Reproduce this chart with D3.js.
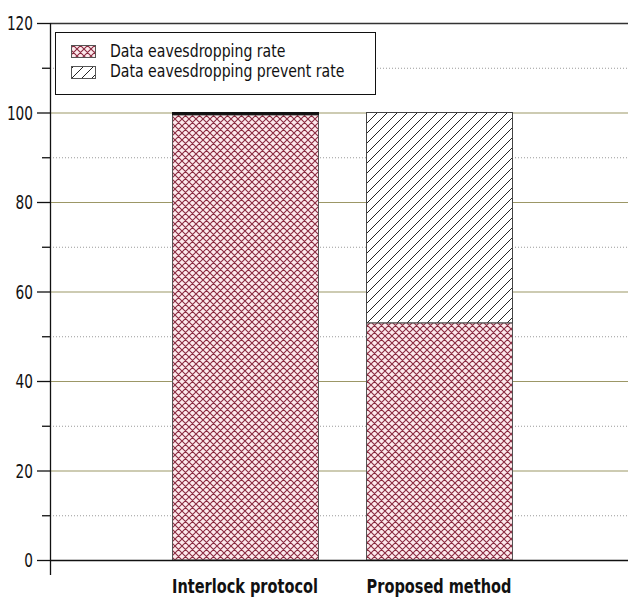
<!DOCTYPE html>
<html><head><meta charset="utf-8">
<script src="https://cdn.jsdelivr.net/npm/d3@7"></script>
<style>body{margin:0;background:#fff}</style>
</head><body>
<svg id="c" width="628" height="599"></svg>
<script>
const categories = ["Interlock protocol", "Proposed method"];
const eavesdroppingRate = [99.5, 53];
const preventRate = [0.5, 47];
const seriesNames = ["Data eavesdropping rate", "Data eavesdropping prevent rate"];
const majorTicks = [0, 20, 40, 60, 80, 100, 120];
const minorTicks = [10, 30, 50, 70, 90, 110];

const svg = d3.select("#c");
const font = "'Liberation Sans Narrow','DejaVu Sans Condensed',sans-serif";
const x0 = 50, x1 = 628, yTop = 23, yBot = 560;
const y = d3.scaleLinear().domain([0, 120]).range([yBot, yTop]);
const x = d3.scaleBand().domain(categories).range([172, 512]).paddingInner(48/194).paddingOuter(0);

function sText(sel, px, py, sx) {
  return sel.append("g").attr("transform", `translate(${px},${py}) scale(${sx},1)`).append("text");
}

const defs = svg.append("defs");
const cross = defs.append("pattern").attr("id","cross").attr("patternUnits","userSpaceOnUse")
  .attr("width",7).attr("height",7);
cross.append("rect").attr("width",7).attr("height",7).attr("fill","#fde9ec");
cross.append("path").attr("d","M0,0L7,7M7,0L0,7M-1,6L1,8M6,-1L8,1M6,8L8,6M-1,1L1,-1")
  .attr("stroke","#8a2a40").attr("stroke-width",1.1);
const hatch = defs.append("pattern").attr("id","hatch").attr("patternUnits","userSpaceOnUse")
  .attr("width",10).attr("height",10);
hatch.append("rect").attr("width",10).attr("height",10).attr("fill","#fff");
hatch.append("path").attr("d","M0,10L10,0M-2,2L2,-2M8,12L12,8")
  .attr("stroke","#222").attr("stroke-width",1);

svg.selectAll("line.minor").data(minorTicks).enter().append("line")
  .attr("x1",x0).attr("x2",x1).attr("y1",d=>y(d)+0.5).attr("y2",d=>y(d)+0.5)
  .attr("stroke","#9a9a9a").attr("stroke-dasharray","1,2");
svg.selectAll("line.major").data(majorTicks.filter(d=>d>0&&d<120)).enter().append("line")
  .attr("x1",x0).attr("x2",x1).attr("y1",d=>y(d)+0.5).attr("y2",d=>y(d)+0.5)
  .attr("stroke","#9c9766").attr("stroke-width",1.2);
svg.append("line").attr("x1",x0).attr("x2",x1).attr("y1",y(120)+0.5).attr("y2",y(120)+0.5)
  .attr("stroke","#333").attr("stroke-width",1.5);

const g = svg.append("g");
categories.forEach((c,i)=>{
  const bx = x(c), bw = x.bandwidth();
  g.append("rect").attr("x",bx+0.5).attr("y",y(eavesdroppingRate[i])).attr("width",bw)
    .attr("height",y(0)-y(eavesdroppingRate[i])).attr("fill","url(#cross)").attr("stroke","#555");
  g.append("rect").attr("x",bx+0.5).attr("y",y(eavesdroppingRate[i]+preventRate[i])).attr("width",bw)
    .attr("height",y(eavesdroppingRate[i])-y(eavesdroppingRate[i]+preventRate[i]))
    .attr("fill",i===0?"#111":"url(#hatch)").attr("stroke",i===0?"#111":"#444").attr("stroke-width",1);
});

svg.append("line").attr("x1",x0+0.5).attr("x2",x0+0.5).attr("y1",yTop).attr("y2",575).attr("stroke","#111").attr("stroke-width",1.3);
svg.append("line").attr("x1",x0).attr("x2",x1).attr("y1",yBot+0.5).attr("y2",yBot+0.5).attr("stroke","#111").attr("stroke-width",1.3);
svg.selectAll("line.mt").data(majorTicks).enter().append("line")
  .attr("x1",37).attr("x2",x0).attr("y1",d=>y(d)+0.5).attr("y2",d=>y(d)+0.5).attr("stroke","#111").attr("stroke-width",1.3);
svg.selectAll("line.nt").data(minorTicks).enter().append("line")
  .attr("x1",42).attr("x2",x0).attr("y1",d=>y(d)+0.5).attr("y2",d=>y(d)+0.5).attr("stroke","#111").attr("stroke-width",1.3);
majorTicks.forEach(d=>{
  sText(svg, 33, y(d)+7, 0.8).attr("text-anchor","end")
    .attr("font-family",font).attr("font-size",19).attr("fill","#111").text(d);
});

categories.forEach(c=>{
  sText(svg, x(c)+x.bandwidth()/2, 593, 0.85).attr("text-anchor","middle")
    .attr("font-family",font).attr("font-weight","bold").attr("font-size",19).attr("fill","#111").text(c);
});

const lg = svg.append("g");
lg.append("rect").attr("x",55.5).attr("y",32.5).attr("width",320).attr("height",62)
  .attr("fill","#fff").attr("stroke","#111");
const fills = ["url(#cross)","url(#hatch)"];
seriesNames.forEach((n,i)=>{
  lg.append("rect").attr("x",71.5).attr("y",45.5+i*21).attr("width",24).attr("height",12)
    .attr("fill",fills[i]).attr("stroke","#555");
  sText(lg, 110, 57+i*20, 0.87).attr("font-family",font).attr("font-size",18)
    .attr("fill","#111").text(n);
});
</script>
</body></html>
